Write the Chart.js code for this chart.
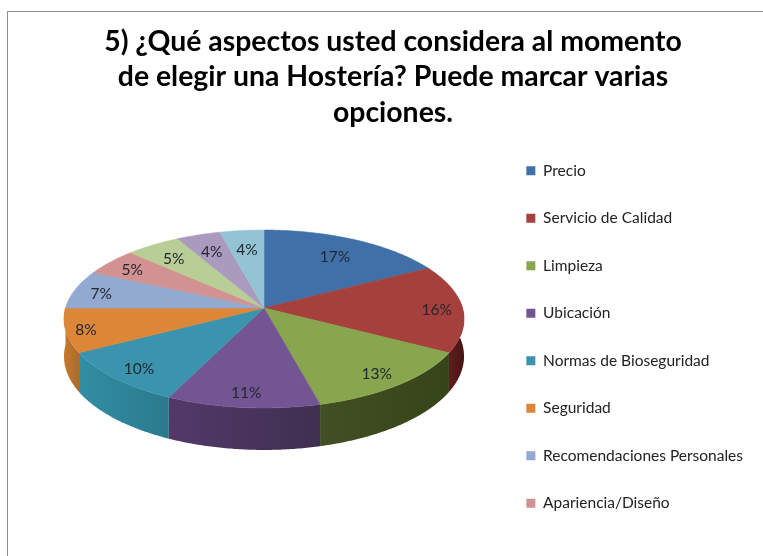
<!DOCTYPE html>
<html>
<head>
<meta charset="utf-8">
<title>Hostería</title>
<script src="https://cdn.jsdelivr.net/npm/chart.js@4"></script>
<style>
  html, body { margin: 0; background: #fff; overflow: hidden; }
  #frame { position: absolute; left: 7px; top: 11px; right: 0; bottom: 0; border-top: 1px solid #8c8c8c; border-left: 1px solid #8c8c8c; }
  canvas { position: absolute; left: 0; top: 0; }
</style>
</head>
<body>
<div id="frame"></div>
<canvas id="chart" width="763" height="556"></canvas>
<script>
const titleLines = [
  '5) ¿Qué aspectos usted considera al momento',
  'de elegir una Hostería? Puede marcar varias',
  'opciones.'
];
// the last three slices are cut off from the legend in the picture
const categories = [
  'Precio', 'Servicio de Calidad', 'Limpieza', 'Ubicación', 'Normas de Bioseguridad',
  'Seguridad', 'Recomendaciones Personales', 'Apariencia/Diseño', '', '', ''
];
const percents = [17, 16, 13, 11, 10, 8, 7, 5, 5, 4, 4];
const legendCount = 8;

const topColors = ['#3f71a8', '#a6403d', '#87a64e', '#735594', '#3a94ad', '#dc8638',
  '#92a9d0', '#d19291', '#b9cd96', '#a99abe', '#93c4d3'];
const wallColors = [
  ['#2b4c72', '#2b4c72'], ['#5e1f1c', '#451412'], ['#414f22', '#364419'], ['#53396a', '#3f2f50'],
  ['#318ea4', '#2b7a8c'], ['#c47a30', '#b06a28'], ['#5a6f90', '#5a6f90'], ['#8a5a58', '#8a5a58'],
  ['#7a8a5a', '#7a8a5a'], ['#6a5a80', '#6a5a80'], ['#5a8a9a', '#5a8a9a']
];
const labelRadius = [0.76, 0.87, 0.85, 0.85, 0.85, 0.9, 0.86, 0.85, 0.8, 0.78, 0.75];

// tilted pie: projects the arc elements onto the page with a bit of perspective
const view = { cx: 264, cy: 308, a: 198.5, b: 87.6, k: 0.1236, h: 36.8 };

function project(angle, r, drop) {
  const u = Math.cos(angle) * r, v = Math.sin(angle) * r;
  const d = 1 - view.k * v;
  return { x: view.cx + view.a * u / d, y: view.cy + (view.b * v + (drop || 0)) / d };
}

const tiltedPie = {
  id: 'tiltedPie',
  beforeDatasetsDraw(chart) {
    const ctx = chart.ctx;
    const arcs = chart.getDatasetMeta(0).data;
    const step = 0.01;

    // walls first, only the front half of the rim shows
    arcs.forEach((arc, i) => {
      const from = Math.max(arc.startAngle, -0.1), to = Math.min(arc.endAngle, Math.PI);
      if (to <= from) return;
      const top = [], bottom = [];
      for (let t = from; t < to; t += step) {
        top.push(project(t, 1));
        bottom.push(project(t, 1, view.h));
      }
      top.push(project(to, 1));
      bottom.push(project(to, 1, view.h));
      const xs = top.map(p => p.x);
      const grad = ctx.createLinearGradient(Math.min(...xs), 0, Math.max(...xs), 0);
      grad.addColorStop(0, wallColors[i][0]);
      grad.addColorStop(1, wallColors[i][1]);
      ctx.beginPath();
      top.forEach((p, n) => n ? ctx.lineTo(p.x, p.y) : ctx.moveTo(p.x, p.y));
      bottom.reverse().forEach(p => ctx.lineTo(p.x, p.y));
      ctx.closePath();
      ctx.fillStyle = grad;
      ctx.fill();
    });

    // top face
    arcs.forEach(arc => {
      ctx.beginPath();
      ctx.moveTo(view.cx, view.cy);
      for (let t = arc.startAngle; t < arc.endAngle; t += step) {
        const p = project(t, 1);
        ctx.lineTo(p.x, p.y);
      }
      const end = project(arc.endAngle, 1);
      ctx.lineTo(end.x, end.y);
      ctx.closePath();
      ctx.fillStyle = arc.options.backgroundColor;
      ctx.strokeStyle = arc.options.backgroundColor;
      ctx.lineWidth = 0.6;
      ctx.fill();
      ctx.stroke();
    });

    // percent labels
    ctx.font = '15.5px Lato';
    ctx.fillStyle = '#23262e';
    ctx.textAlign = 'center';
    ctx.textBaseline = 'middle';
    arcs.forEach((arc, i) => {
      const p = project((arc.startAngle + arc.endAngle) / 2, labelRadius[i]);
      ctx.fillText(percents[i] + '%', p.x, p.y + 2);
    });
    return false;
  }
};

new Chart(document.getElementById('chart'), {
  type: 'pie',
  data: {
    labels: categories,
    datasets: [{ data: percents, backgroundColor: topColors, borderWidth: 0 }]
  },
  plugins: [tiltedPie],
  options: {
    responsive: false,
    animation: false,
    layout: { padding: { left: 33, right: 10, top: 0, bottom: 0 } },
    plugins: {
      tooltip: { enabled: false },
      title: {
        display: true,
        text: titleLines,
        color: '#000',
        font: { family: 'Lato', size: 28.4, weight: 'bold', lineHeight: 1.245 },
        padding: { top: 24, bottom: 1 }
      },
      legend: {
        position: 'right',
        align: 'start',
        fullSize: false,
        labels: {
          boxWidth: 9,
          boxHeight: 9,
          padding: 32,
          color: '#222',
          font: { family: 'Lato', size: 15.5 },
          filter: item => item.index < legendCount
        }
      }
    }
  }
});
</script>
</body>
</html>
